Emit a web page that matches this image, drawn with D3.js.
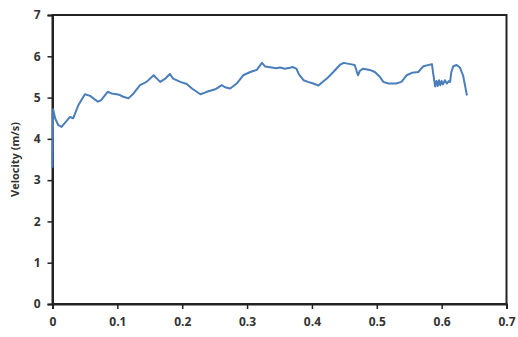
<!DOCTYPE html>
<html>
<head>
<meta charset="utf-8">
<script src="https://cdn.jsdelivr.net/npm/d3@7/dist/d3.min.js"></script>
<style>
  html, body { margin: 0; padding: 0; background: #fff; }
  svg { display: block; }
  text { font-family: "Open Sans", "Liberation Sans", sans-serif; font-weight: bold; fill: #333; }
</style>
</head>
<body>
<svg id="chart" width="518" height="337"></svg>
<script>
// Time along the run (s)
const time = [
  0, 0.001, 0.004, 0.009, 0.014, 0.027, 0.032, 0.04, 0.05, 0.058,
  0.07, 0.075, 0.085, 0.091, 0.099, 0.104, 0.109, 0.117, 0.125, 0.135,
  0.145, 0.156, 0.161, 0.166, 0.174, 0.181, 0.186, 0.197, 0.207, 0.215,
  0.228, 0.235, 0.238, 0.251, 0.261, 0.266, 0.274, 0.284, 0.294, 0.305,
  0.315, 0.323, 0.328, 0.338, 0.345, 0.351, 0.358, 0.366, 0.37, 0.376,
  0.38, 0.387, 0.394, 0.402, 0.41, 0.415, 0.423, 0.433, 0.443, 0.449,
  0.459, 0.466, 0.471, 0.474, 0.479, 0.489, 0.497, 0.505, 0.51, 0.518,
  0.53, 0.538, 0.546, 0.554, 0.564, 0.572, 0.585, 0.587, 0.59, 0.592,
  0.594, 0.596, 0.598, 0.6, 0.602, 0.605, 0.608, 0.611, 0.613, 0.615,
  0.618, 0.623, 0.628, 0.633, 0.636, 0.639
];
// Measured velocity (m/s)
const velocity = [
  3.3, 4.72, 4.5, 4.33, 4.29, 4.53, 4.5, 4.82, 5.08, 5.04,
  4.9, 4.94, 5.14, 5.1, 5.08, 5.06, 5.02, 4.98, 5.1, 5.3,
  5.38, 5.54, 5.46, 5.38, 5.46, 5.57, 5.46, 5.38, 5.33, 5.22,
  5.08, 5.12, 5.14, 5.2, 5.3, 5.25, 5.22, 5.34, 5.54, 5.62,
  5.67, 5.84, 5.75, 5.73, 5.71, 5.73, 5.7, 5.72, 5.74, 5.7,
  5.56, 5.42, 5.38, 5.34, 5.29, 5.36, 5.46, 5.62, 5.79, 5.84,
  5.81, 5.79, 5.54, 5.65, 5.7, 5.67, 5.62, 5.5, 5.38, 5.34,
  5.34, 5.38, 5.54, 5.6, 5.62, 5.76, 5.81, 5.58, 5.27, 5.4,
  5.28, 5.42, 5.3, 5.4, 5.32, 5.42, 5.34, 5.4, 5.38, 5.62,
  5.76, 5.79, 5.73, 5.54, 5.3, 5.05
];
const xTicks = [0, 0.1, 0.2, 0.3, 0.4, 0.5, 0.6, 0.7];
const yTicks = [0, 1, 2, 3, 4, 5, 6, 7];
const yTitle = "Velocity (m/s)";

const svg = d3.select("#chart");
const plot = { left: 52.5, right: 506.5, top: 15, bottom: 304 };

const x = d3.scaleLinear().domain([0, 0.7]).range([plot.left, plot.right]);
const y = d3.scaleLinear().domain([0, 7]).range([plot.bottom, plot.top]);

// Plot-area frame
svg.append("rect")
  .attr("x", plot.left).attr("y", plot.top)
  .attr("width", plot.right - plot.left).attr("height", plot.bottom - plot.top)
  .attr("fill", "none").attr("stroke", "#222").attr("stroke-width", 2);

// Axes
const xAxis = svg.append("g")
  .attr("transform", `translate(0,${plot.bottom})`)
  .call(d3.axisBottom(x).tickValues(xTicks).tickSize(5).tickPadding(8)
    .tickFormat(d => d === 0 ? "0" : d3.format(".1f")(d)));
const yAxis = svg.append("g")
  .attr("transform", `translate(${plot.left},0)`)
  .call(d3.axisLeft(y).tickValues(yTicks).tickSize(5).tickPadding(7)
    .tickFormat(d3.format("d")));

[xAxis, yAxis].forEach(g => {
  g.select(".domain").attr("stroke", "#222").attr("stroke-width", 2);
  g.selectAll(".tick line").attr("stroke", "#222").attr("stroke-width", 1.5);
  g.selectAll(".tick text")
    .style("font-size", "12px").style("font-weight", "bold")
    .attr("fill", "#333");
});

// Y-axis title
svg.append("text")
  .attr("transform", `translate(19,${(plot.top + plot.bottom) / 2}) rotate(-90)`)
  .attr("text-anchor", "middle")
  .style("font-size", "11px")
  .text(yTitle);

// Velocity trace
const pts = time.map((t, i) => [t, velocity[i]]);
svg.append("path")
  .datum(pts)
  .attr("fill", "none")
  .attr("stroke", "#4a7ebb")
  .attr("stroke-width", 2)
  .attr("stroke-linejoin", "round")
  .attr("d", d3.line().x(d => x(d[0])).y(d => y(d[1])));
</script>
</body>
</html>
